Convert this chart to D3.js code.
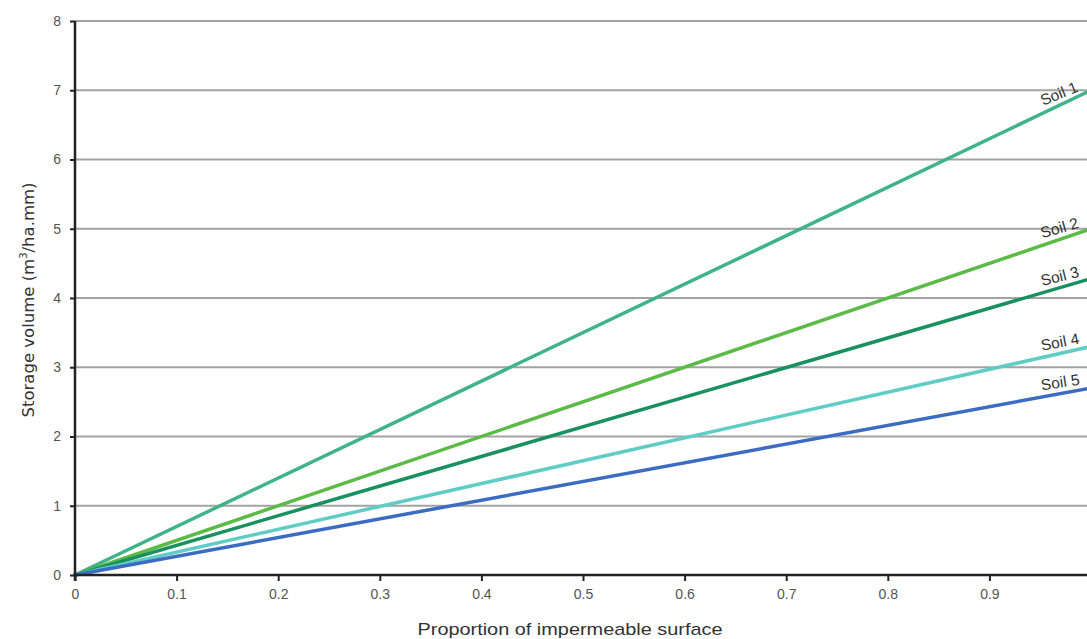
<!DOCTYPE html>
<html>
<head>
<meta charset="utf-8">
<script src="https://cdn.jsdelivr.net/npm/d3@7"></script>
<style>
  html, body { margin: 0; padding: 0; background: #fff; overflow: hidden; }
  svg { display: block; font-family: "Liberation Sans", Arial, sans-serif; }
</style>
</head>
<body>
<svg id="chart" width="1087" height="639"></svg>
<script>
// Data
const series = ["Soil 1", "Soil 2", "Soil 3", "Soil 4", "Soil 5"];
const xValues = [0, 1.0];
const soil1 = [0, 7.0];
const soil2 = [0, 5.0];
const soil3 = [0, 4.28];
const soil4 = [0, 3.3];
const soil5 = [0, 2.7];
const seriesValues = [soil1, soil2, soil3, soil4, soil5];
const colors = ["#3fb389", "#5cbb47", "#19905f", "#5fcdc6", "#3c6cc2"];
const xTicks = [0, 0.1, 0.2, 0.3, 0.4, 0.5, 0.6, 0.7, 0.8, 0.9];
const yTicks = [0, 1, 2, 3, 4, 5, 6, 7, 8];

const svg = d3.select("#chart");
const W = 1087, H = 639;
const x = d3.scaleLinear().domain([0, 1]).range([75, 1091]);
const y = d3.scaleLinear().domain([0, 8]).range([575, 21]);

// gridlines
svg.append("g").selectAll("line").data(yTicks.filter(d => d > 0)).join("line")
  .attr("x1", x(0)).attr("x2", W)
  .attr("y1", d => y(d)).attr("y2", d => y(d))
  .attr("stroke", "#a3a3a3").attr("stroke-width", 2);

// lines
const line = d3.line().x((d, i) => x(xValues[i])).y(d => y(d));
svg.append("g").selectAll("path").data(seriesValues).join("path")
  .attr("d", d => line(d))
  .attr("fill", "none")
  .attr("stroke", (d, i) => colors[i])
  .attr("stroke-width", 3.5)
  .attr("stroke-linecap", "round");

// series labels (placed along each line near the right edge)
const labelEndPx = 1085;
svg.append("g").selectAll("text").data(seriesValues).join("text")
  .attr("transform", d => {
    const px = labelEndPx - 24;
    const v = x.invert(px);
    const py = y(d[0] + (d[1] - d[0]) * v) - 6;
    const ang = -Math.atan((y(0) - y(d[1])) / (x(1) - x(0))) * 180 / Math.PI * 0.85;
    return `translate(${px},${py}) rotate(${ang})`;
  })
  .attr("text-anchor", "middle")
  .attr("font-size", 15.5)
  .attr("fill", "#333")
  .text((d, i) => series[i]);

// axes
const xAxis = d3.axisBottom(x).tickValues(xTicks).tickSize(6).tickPadding(8)
  .tickFormat(d => d === 0 ? "0" : d3.format(".1f")(d));
const gx = svg.append("g").attr("transform", `translate(0,${y(0)})`).call(xAxis);
gx.select(".domain").attr("d", `M${x(0)},0H${W}`).attr("stroke", "#222").attr("stroke-width", 2.5);
gx.selectAll(".tick line").attr("stroke", "#222").attr("stroke-width", 2);
gx.selectAll(".tick text").attr("font-size", 14).attr("fill", "#555")
  .attr("font-family", "Liberation Sans, Arial, sans-serif");

const yAxis = d3.axisLeft(y).tickValues(yTicks).tickSize(5).tickPadding(9);
const gy = svg.append("g").attr("transform", `translate(${x(0)},0)`).call(yAxis);
gy.select(".domain").attr("d", `M0,${y(8)}V${y(0) + 6}`).attr("stroke", "#222").attr("stroke-width", 2.5);
gy.selectAll(".tick line").attr("stroke", "#222").attr("stroke-width", 2);
gy.selectAll(".tick text").attr("font-size", 14).attr("fill", "#555")
  .attr("font-family", "Liberation Sans, Arial, sans-serif");

// axis titles
svg.append("text")
  .attr("x", 570).attr("y", 635)
  .attr("text-anchor", "middle")
  .attr("font-size", 17).attr("fill", "#333")
  .attr("textLength", 305).attr("lengthAdjust", "spacingAndGlyphs")
  .text("Proportion of impermeable surface");

const yt = svg.append("text")
  .attr("transform", `translate(34,300) rotate(-90)`)
  .attr("text-anchor", "middle")
  .attr("font-family", "DejaVu Sans, sans-serif")
  .attr("font-size", 16.5).attr("fill", "#333");
yt.append("tspan").text("Storage volume (m");
yt.append("tspan").attr("font-size", 10).attr("dy", -7).text("3");
yt.append("tspan").attr("dy", 7).text("/ha.mm)");
</script>
</body>
</html>
